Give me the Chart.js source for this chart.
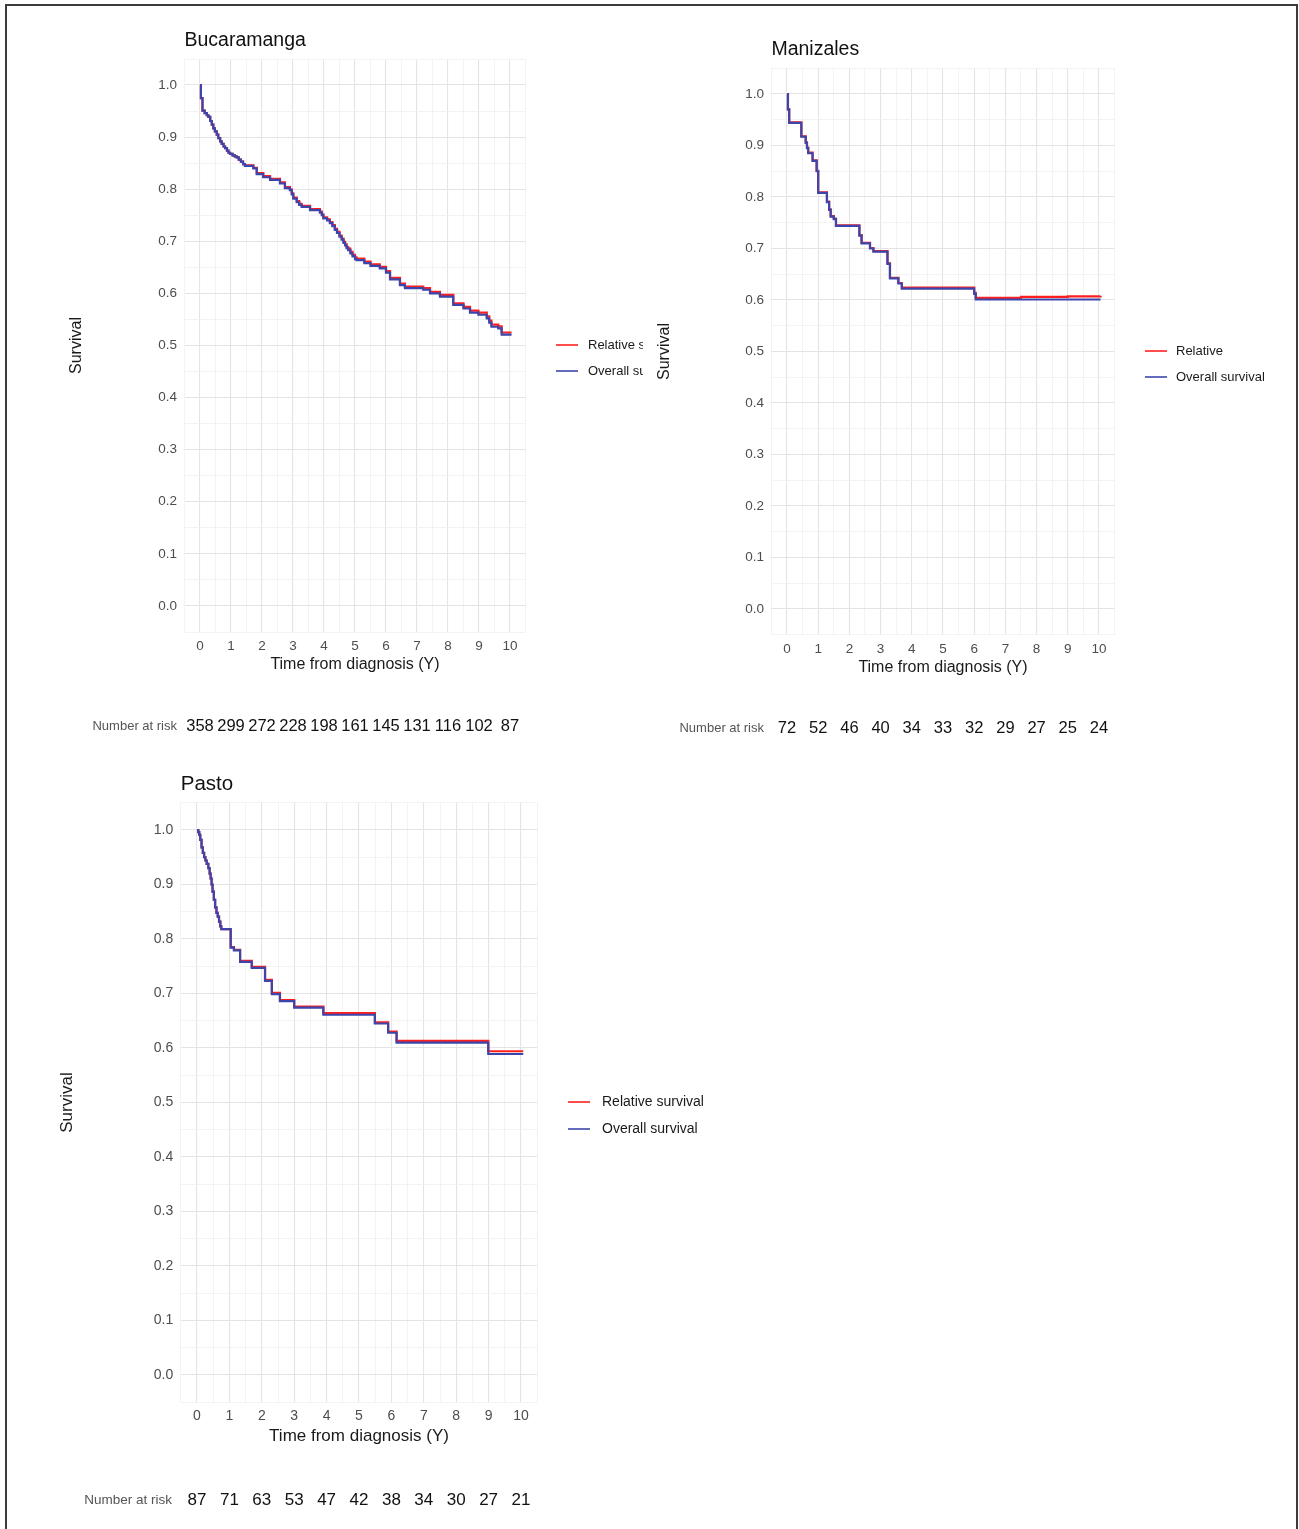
<!DOCTYPE html>
<html>
<head>
<meta charset="utf-8">
<script src="https://cdn.jsdelivr.net/npm/chart.js@4.4.1/dist/chart.umd.min.js"></script>
<style>
  html, body { margin: 0; padding: 0; background: #fff; }
  body { width: 1299px; height: 1529px; position: relative; overflow: hidden; }
  .frame { position: absolute; left: 5px; top: 4px; width: 1293px; height: 1530px; border: 2px solid #3c3c3c; box-sizing: border-box; }
  canvas { position: absolute; }
</style>
</head>
<body>
<div class="frame"></div>
<canvas id="bucaramanga"></canvas>
<canvas id="manizales"></canvas>
<canvas id="pasto"></canvas>
<script>
// years shown on the x axis / in the number-at-risk row
const years = [0, 1, 2, 3, 4, 5, 6, 7, 8, 9, 10];

// Bucaramanga
const bucTime = [0, 0.03, 0.08, 0.15, 0.22, 0.27, 0.33, 0.38, 0.43, 0.48, 0.54, 0.59, 0.65, 0.7, 0.76, 0.81, 0.87, 0.92, 0.97, 1.05,
  1.12, 1.18, 1.25, 1.32, 1.39, 1.45, 1.72, 1.83, 2.04, 2.26, 2.58, 2.74, 2.9, 2.96, 3.01, 3.12, 3.2, 3.28, 3.55, 3.87,
  3.93, 3.98, 4.1, 4.19, 4.27, 4.35, 4.42, 4.5, 4.57, 4.63, 4.68, 4.73, 4.78, 4.85, 4.92, 5.0, 5.05, 5.3, 5.5, 5.8,
  6.0, 6.13, 6.45, 6.61, 7.2, 7.42, 7.74, 8.17, 8.5, 8.71, 8.98, 9.25, 9.33, 9.4, 9.62, 9.73, 10.05];
const bucOverall = [1.0, 0.975, 0.951, 0.946, 0.942, 0.939, 0.931, 0.924, 0.917, 0.911, 0.905, 0.898, 0.892, 0.887, 0.882, 0.879, 0.874, 0.870, 0.868, 0.865,
  0.863, 0.861, 0.857, 0.853, 0.848, 0.845, 0.840, 0.829, 0.823, 0.818, 0.811, 0.802, 0.798, 0.790, 0.782, 0.775, 0.770, 0.766, 0.760, 0.755,
  0.750, 0.744, 0.740, 0.735, 0.729, 0.722, 0.716, 0.709, 0.703, 0.697, 0.692, 0.687, 0.683, 0.677, 0.671, 0.666, 0.664, 0.658, 0.653, 0.648,
  0.640, 0.627, 0.616, 0.610, 0.607, 0.600, 0.594, 0.578, 0.571, 0.563, 0.559, 0.552, 0.544, 0.536, 0.533, 0.521, 0.521];
const bucRelative = [1.0, 0.975, 0.951, 0.946, 0.942, 0.939, 0.931, 0.924, 0.917, 0.911, 0.905, 0.898, 0.892, 0.887, 0.882, 0.879, 0.874, 0.870, 0.868, 0.865,
  0.863, 0.861, 0.857, 0.853, 0.848, 0.846, 0.841, 0.831, 0.825, 0.820, 0.813, 0.804, 0.800, 0.792, 0.784, 0.777, 0.772, 0.768, 0.762, 0.757,
  0.752, 0.746, 0.742, 0.737, 0.731, 0.724, 0.718, 0.711, 0.705, 0.699, 0.694, 0.689, 0.686, 0.680, 0.674, 0.669, 0.667, 0.661, 0.656, 0.651,
  0.643, 0.630, 0.619, 0.613, 0.610, 0.603, 0.597, 0.581, 0.574, 0.567, 0.563, 0.556, 0.548, 0.540, 0.537, 0.525, 0.525];
const bucAtRisk = [358, 299, 272, 228, 198, 161, 145, 131, 116, 102, 87];
const bucLabels = ['Relative survival', 'Overall survival'];

// Manizales
const manTimeOverall = [0, 0.03, 0.07, 0.46, 0.6, 0.64, 0.68, 0.82, 0.95, 1.0, 1.28, 1.35, 1.4, 1.5, 1.57, 2.32, 2.39, 2.66, 2.77,
  3.22, 3.3, 3.57, 3.68, 6.0, 6.05, 10.05];
const manOverall = [1.0, 0.97, 0.944, 0.917, 0.905, 0.895, 0.885, 0.870, 0.850, 0.808, 0.790, 0.775, 0.762, 0.757, 0.744, 0.725, 0.710, 0.700, 0.694,
  0.670, 0.642, 0.632, 0.622, 0.612, 0.601, 0.601];
const manTimeRelative = [0, 0.03, 0.07, 0.46, 0.6, 0.64, 0.68, 0.82, 0.95, 1.0, 1.28, 1.35, 1.4, 1.5, 1.57, 2.32, 2.39, 2.66, 2.77,
  3.22, 3.3, 3.57, 3.68, 6.0, 6.05, 7.5, 9.0, 10.05];
const manRelative = [1.0, 0.97, 0.945, 0.918, 0.906, 0.896, 0.886, 0.871, 0.851, 0.809, 0.791, 0.776, 0.763, 0.758, 0.745, 0.726, 0.711, 0.701, 0.695,
  0.671, 0.643, 0.633, 0.624, 0.614, 0.604, 0.606, 0.607, 0.608];
const manAtRisk = [72, 52, 46, 40, 34, 33, 32, 29, 27, 25, 24];
const manLabels = ['Relative', 'Overall survival'];

// Pasto
const pasTime = [0, 0.04, 0.07, 0.1, 0.14, 0.18, 0.22, 0.26, 0.3, 0.35, 0.39, 0.42, 0.45, 0.48, 0.52, 0.56, 0.6, 0.64, 0.68, 0.72,
  0.75, 1.04, 1.14, 1.33, 1.69, 2.1, 2.31, 2.56, 3.0, 3.9, 5.49, 5.9, 6.16, 8.99, 10.07];
const pasOverall = [1.0, 0.996, 0.991, 0.982, 0.968, 0.958, 0.950, 0.944, 0.938, 0.930, 0.920, 0.911, 0.900, 0.887, 0.872, 0.858, 0.848, 0.841, 0.832, 0.823,
  0.818, 0.784, 0.779, 0.758, 0.747, 0.723, 0.699, 0.686, 0.674, 0.661, 0.645, 0.628, 0.610, 0.589, 0.589];
const pasRelative = [1.0, 0.996, 0.991, 0.982, 0.968, 0.958, 0.950, 0.944, 0.938, 0.930, 0.920, 0.911, 0.900, 0.887, 0.872, 0.858, 0.848, 0.841, 0.832, 0.823,
  0.818, 0.785, 0.780, 0.760, 0.749, 0.725, 0.701, 0.688, 0.676, 0.664, 0.647, 0.630, 0.613, 0.594, 0.594];
const pasAtRisk = [87, 71, 63, 53, 47, 42, 38, 34, 30, 27, 21];
const pasLabels = ['Relative survival', 'Overall survival'];

const RED = '#ff1f1f';
const BLUE = '#3a46ab';
const FAMILY = '"Liberation Sans", Arial, Helvetica, sans-serif';
Chart.defaults.font.family = FAMILY;

// page geometry of each panel (canvas box, plot panel, text rows)
const bucBox = { x: 60, y: 15, w: 583, h: 735, l: 184.5, r: 525.5, t: 59, b: 632,
  titleY: 41, yTitleX: 77, xTickY: 646, xTitleY: 665, riskY: 726, riskGap: 7.5,
  legLineX: 556, legTextX: 588, legY: 345, legGap: 26 };
const manBox = { x: 650, y: 22, w: 645, h: 730, l: 771.4, r: 1114.6, t: 68.25, b: 634.75,
  titleY: 50, yTitleX: 665, xTickY: 649, xTitleY: 668, riskY: 728, riskGap: 7.4,
  legLineX: 1145, legTextX: 1176, legY: 351, legGap: 26 };
const pasBox = { x: 40, y: 760, w: 700, h: 762, l: 180.8, r: 537.2, t: 802.75, b: 1402.25,
  titleY: 784, yTitleX: 67, xTickY: 1416, xTitleY: 1436, riskY: 1500, riskGap: 8.8,
  legLineX: 568, legTextX: 602, legY: 1102, legGap: 27 };

const smallFonts = { title: 19.5, axis: 16, tick: 13.5, legend: 13, risk: 16.5, riskLabel: 13 };
const largeFonts = { title: 20.5, axis: 17, tick: 14, legend: 14, risk: 17, riskLabel: 13.5 };

function pairs(t, s) {
  return t.map((x, i) => ({ x: x, y: s[i] }));
}

function near(v, step) {
  const k = v / step;
  return Math.abs(k - Math.round(k)) < 1e-6;
}

function kmExtras(g, f, atRisk) {
  return {
    id: 'kmExtras',
    afterDraw(chart) {
      const { ctx, chartArea, scales } = chart;
      ctx.save();
      // legend
      chart.data.datasets.forEach((ds, i) => {
        const y = g.legY - g.y + i * g.legGap;
        ctx.strokeStyle = ds.borderColor;
        ctx.lineWidth = 1.6;
        ctx.beginPath();
        ctx.moveTo(g.legLineX - g.x, y);
        ctx.lineTo(g.legLineX - g.x + 22, y);
        ctx.stroke();
        ctx.fillStyle = '#1a1a1a';
        ctx.font = f.legend + 'px ' + FAMILY;
        ctx.textAlign = 'left';
        ctx.textBaseline = 'middle';
        ctx.fillText(ds.label, g.legTextX - g.x, y);
      });
      // number at risk
      const ry = g.riskY - g.y;
      ctx.textBaseline = 'middle';
      ctx.fillStyle = '#555';
      ctx.font = f.riskLabel + 'px ' + FAMILY;
      ctx.textAlign = 'right';
      ctx.fillText('Number at risk', chartArea.left - g.riskGap, ry);
      ctx.fillStyle = '#111';
      ctx.font = f.risk + 'px ' + FAMILY;
      ctx.textAlign = 'center';
      atRisk.forEach((n, i) => {
        ctx.fillText(String(n), scales.x.getPixelForValue(years[i]), ry);
      });
      ctx.restore();
    }
  };
}

function survivalChart(id, title, g, f, labels, relPts, ovrPts, atRisk) {
  const canvas = document.getElementById(id);
  canvas.width = g.w;
  canvas.height = g.h;
  canvas.style.left = g.x + 'px';
  canvas.style.top = g.y + 'px';

  const yWidth = g.l - g.x;
  const yTitlePad = g.yTitleX - g.x - f.axis * 0.6;
  const padTop = g.titleY - g.y - f.title * 0.6;
  const titleBottom = g.t - g.titleY - f.title * 0.6;
  const xTickPad = g.xTickY - g.b - f.tick * 0.6;
  const xHeight = g.xTitleY - g.b + f.axis * 0.6;
  const padBottom = g.y + g.h - g.b - xHeight;
  const padRight = g.x + g.w - g.r;

  const gridColor = (step) => (c) => (c.tick && near(c.tick.value, step) ? '#e4e4e4' : '#f0f0f0');
  const gridWidth = (step) => (c) => (c.tick && near(c.tick.value, step) ? 1.1 : 0.8);

  return new Chart(canvas, {
    type: 'line',
    data: {
      datasets: [
        { label: labels[0], data: relPts, borderColor: RED, backgroundColor: RED, borderWidth: 2.2,
          stepped: true, pointRadius: 0, fill: false, order: 2 },
        { label: labels[1], data: ovrPts, borderColor: BLUE, backgroundColor: BLUE, borderWidth: 2.2,
          stepped: true, pointRadius: 0, fill: false, order: 1 }
      ]
    },
    options: {
      responsive: false,
      animation: false,
      events: [],
      layout: { padding: { left: 0, right: padRight, top: padTop, bottom: padBottom } },
      plugins: {
        legend: { display: false },
        tooltip: { enabled: false },
        title: {
          display: true, text: title, align: 'start', fullSize: false, color: '#111',
          font: { size: f.title, weight: 'normal', lineHeight: 1.2 },
          padding: { top: 0, bottom: titleBottom }
        }
      },
      scales: {
        x: {
          type: 'linear', min: -0.5, max: 10.5,
          border: { display: false },
          grid: { drawTicks: false, color: gridColor(1), lineWidth: gridWidth(1) },
          ticks: {
            stepSize: 0.5, autoSkip: false, maxRotation: 0, maxTicksLimit: 100,
            padding: xTickPad, color: '#4d4d4d', font: { size: f.tick, lineHeight: 1.2 },
            callback: (v) => (near(v, 1) ? String(Math.round(v)) : '')
          },
          title: {
            display: true, text: 'Time from diagnosis (Y)', color: '#1a1a1a',
            font: { size: f.axis, lineHeight: 1.2 }, padding: { top: 0, bottom: 0 }
          },
          afterFit: (s) => { s.height = xHeight; }
        },
        y: {
          type: 'linear', min: -0.05, max: 1.05,
          border: { display: false },
          grid: { drawTicks: false, color: gridColor(0.1), lineWidth: gridWidth(0.1) },
          ticks: {
            stepSize: 0.05, autoSkip: false, maxTicksLimit: 100,
            padding: 7.5, color: '#4d4d4d', font: { size: f.tick, lineHeight: 1.2 },
            callback: (v) => {
              if (!near(v, 0.1) || v < -0.01 || v > 1.01) return '';
              return Math.abs(v) < 1e-9 ? '0.0' : v.toFixed(1);
            }
          },
          title: {
            display: true, text: 'Survival', color: '#1a1a1a',
            font: { size: f.axis, lineHeight: 1.2 }, padding: { top: yTitlePad, bottom: 0 }
          },
          afterFit: (s) => { s.width = yWidth; }
        }
      }
    },
    plugins: [kmExtras(g, f, atRisk)]
  });
}

survivalChart('bucaramanga', 'Bucaramanga', bucBox, smallFonts, bucLabels,
  pairs(bucTime, bucRelative), pairs(bucTime, bucOverall), bucAtRisk);
survivalChart('manizales', 'Manizales', manBox, smallFonts, manLabels,
  pairs(manTimeRelative, manRelative), pairs(manTimeOverall, manOverall), manAtRisk);
survivalChart('pasto', 'Pasto', pasBox, largeFonts, pasLabels,
  pairs(pasTime, pasRelative), pairs(pasTime, pasOverall), pasAtRisk);
</script>
</body>
</html>
